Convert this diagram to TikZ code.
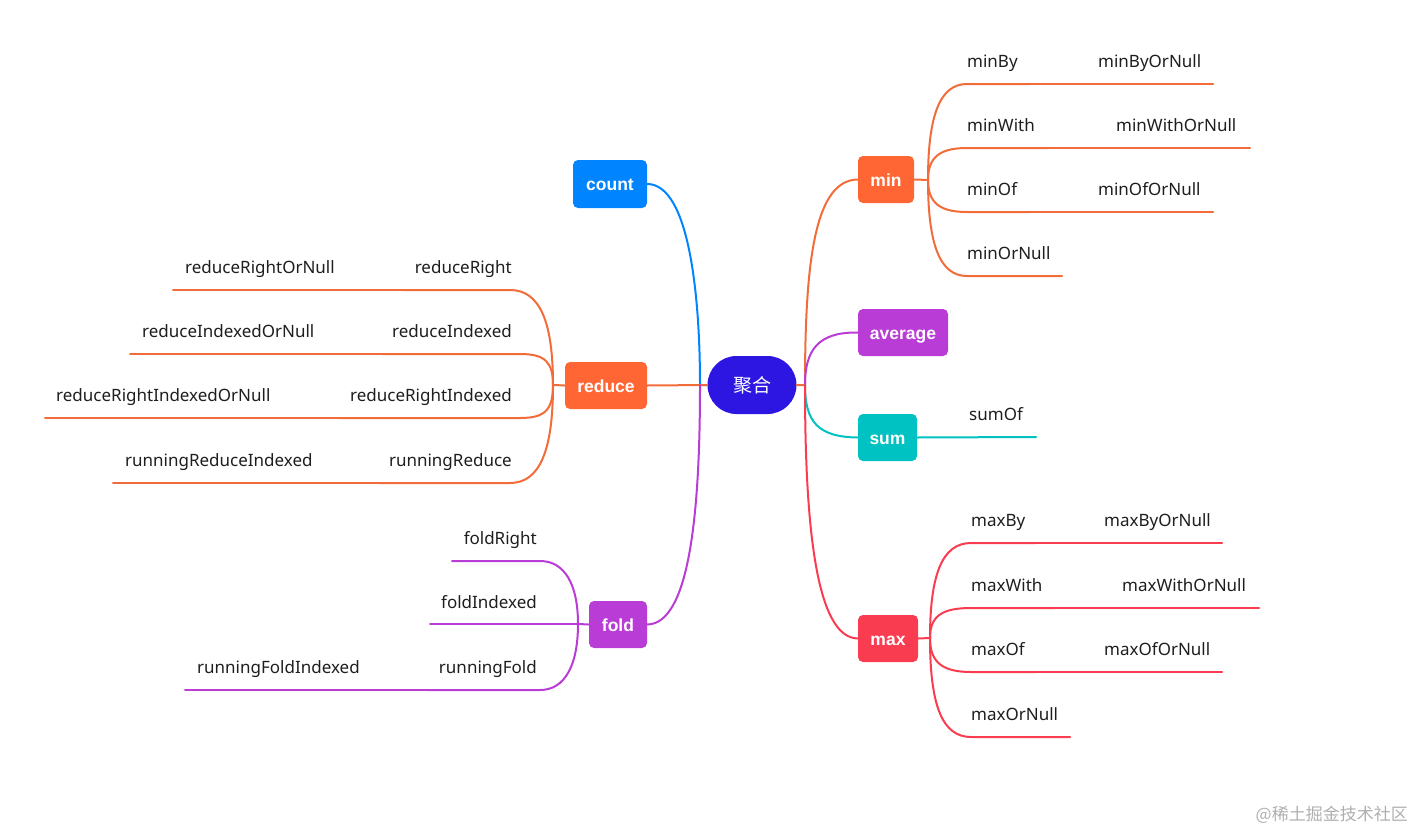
\documentclass[tikz,border=0pt]{standalone}
\usepackage{fontspec}
\setmainfont{Noto Sans}
\newfontfamily\boxf{Liberation Sans}
\newfontfamily\cjk{Noto Sans CJK SC}
\definecolor{rootC}{RGB}{45,22,226}
\definecolor{blueC}{RGB}{0,132,255}
\definecolor{orangeC}{RGB}{255,102,51}
\definecolor{orangeL}{RGB}{242,108,58}
\definecolor{purpleC}{RGB}{186,60,214}
\definecolor{tealC}{RGB}{0,194,194}
\definecolor{redC}{RGB}{250,60,80}
\definecolor{txtC}{RGB}{30,30,30}
\definecolor{wmC}{RGB}{175,175,175}
\begin{document}
\begin{tikzpicture}[x=1pt,y=-1pt,
  every node/.style={font=\fontsize{17}{20}\selectfont, text=txtC},
  box/.style={rounded corners=5pt, inner sep=0pt, text=white, minimum height=47pt, text height=13pt, text depth=0pt, font=\fontsize{17.5}{20}\selectfont\boxf\bfseries},
  lbl/.style={inner sep=0pt},
  ln/.style={line width=2pt, line cap=round}]
\useasboundingbox (0,0) rectangle (1414,830);

% ---------- main nodes ----------
\node[box, fill=rootC, rounded corners=29pt, minimum width=89pt, minimum height=58pt, text height=14pt, text depth=0pt, font=\fontsize{19}{22}\selectfont\cjk] (root) at (752,385) {聚合};
\node[box, fill=blueC, minimum width=74pt, minimum height=48pt] (count) at (610,184) {count};
\node[box, fill=orangeC, minimum width=82pt] (reduce) at (606,385.5) {reduce};
\node[box, fill=purpleC, minimum width=58pt] (fold) at (618,624.5) {fold};
\node[box, fill=orangeC, minimum width=56pt] (min) at (886,179.5) {min};
\node[box, fill=purpleC, minimum width=90pt] (average) at (903,332.5) {average};
\node[box, fill=tealC, minimum width=59pt] (sum) at (887.5,437.5) {sum};
\node[box, fill=redC, minimum width=60pt] (max) at (888,638.5) {max};

% ---------- root connectors ----------
\coordinate (LJ) at (700,385);
\coordinate (RJ) at (805,385);
\draw[ln, blueC] (root.west) -- (LJ) .. controls (700,300) and (690,184) .. (count.east);
\draw[ln, orangeL] (root.west) -- (reduce.east);
\draw[ln, purpleC] (LJ) .. controls (700,510) and (690,624) .. (fold.east);
\draw[ln, orangeL] (root.east) -- (RJ) .. controls (805,260) and (815,180) .. (min.west);
\draw[ln, purpleC] (RJ) .. controls (805,350) and (818,332) .. (average.west);
\draw[ln, tealC] (RJ) .. controls (805,422) and (818,437) .. (sum.west);
\draw[ln, redC] (RJ) .. controls (805,520) and (815,638) .. (max.west);

% ---------- min subtree ----------
\node[lbl, anchor=base west] (minBy) at (967,67) {minBy};
\node[lbl, anchor=base west] (minByOrNull) at (1098,67) {minByOrNull};
\node[lbl, anchor=base west] (minWith) at (967,131) {minWith};
\node[lbl, anchor=base west] (minWithOrNull) at (1116,131) {minWithOrNull};
\node[lbl, anchor=base west] (minOf) at (967,195) {minOf};
\node[lbl, anchor=base west] (minOfOrNull) at (1098,195) {minOfOrNull};
\node[lbl, anchor=base west] (minOrNull) at (967,259) {minOrNull};
\coordinate (minS) at (928,180);
\draw[ln, orangeL] (min.east) -- (minS) .. controls (928,115) and (940,84) .. (967,84) -- (1030,84) coordinate (minByE);
\draw[ln, orangeL] (minByE) -- (1213,84);
\draw[ln, orangeL] (minS) .. controls (928,157) and (940,148) .. (967,148) -- (1048,148) coordinate (minWithE);
\draw[ln, orangeL] (minWithE) -- (1250,148);
\draw[ln, orangeL] (minS) .. controls (928,203) and (940,212) .. (967,212) -- (1030,212) coordinate (minOfE);
\draw[ln, orangeL] (minOfE) -- (1213,212);
\draw[ln, orangeL] (minS) .. controls (928,245) and (940,276) .. (967,276) -- (1062,276);

% ---------- sum subtree ----------
\node[lbl, anchor=base west] (sumOf) at (969,420) {sumOf};
\draw[ln, tealC] (sum.east) -- (1036,437);

% ---------- max subtree ----------
\node[lbl, anchor=base west] (maxBy) at (971,526) {maxBy};
\node[lbl, anchor=base west] (maxByOrNull) at (1104,526) {maxByOrNull};
\node[lbl, anchor=base west] (maxWith) at (971,591) {maxWith};
\node[lbl, anchor=base west] (maxWithOrNull) at (1122,591) {maxWithOrNull};
\node[lbl, anchor=base west] (maxOf) at (971,655) {maxOf};
\node[lbl, anchor=base west] (maxOfOrNull) at (1104,655) {maxOfOrNull};
\node[lbl, anchor=base west] (maxOrNull) at (971,720) {maxOrNull};
\coordinate (maxS) at (930,638);
\draw[ln, redC] (max.east) -- (maxS) .. controls (930,575) and (942,543) .. (971,543) -- (1035,543) coordinate (maxByE);
\draw[ln, redC] (maxByE) -- (1222,543);
\draw[ln, redC] (maxS) .. controls (930,616) and (942,608) .. (971,608) -- (1055,608) coordinate (maxWithE);
\draw[ln, redC] (maxWithE) -- (1259,608);
\draw[ln, redC] (maxS) .. controls (930,662) and (942,672) .. (971,672) -- (1035,672) coordinate (maxOfE);
\draw[ln, redC] (maxOfE) -- (1222,672);
\draw[ln, redC] (maxS) .. controls (930,705) and (942,737) .. (971,737) -- (1070,737);

% ---------- reduce subtree ----------
\node[lbl, anchor=base east] (reduceRight) at (512,273) {reduceRight};
\node[lbl, anchor=base west] (reduceRightOrNull) at (185,273) {reduceRightOrNull};
\node[lbl, anchor=base east] (reduceIndexed) at (512,337) {reduceIndexed};
\node[lbl, anchor=base west] (reduceIndexedOrNull) at (142,337) {reduceIndexedOrNull};
\node[lbl, anchor=base east] (reduceRightIndexed) at (512,401) {reduceRightIndexed};
\node[lbl, anchor=base west] (reduceRightIndexedOrNull) at (56,401) {reduceRightIndexedOrNull};
\node[lbl, anchor=base east] (runningReduce) at (512,466) {runningReduce};
\node[lbl, anchor=base west] (runningReduceIndexed) at (125,466) {runningReduceIndexed};
\coordinate (redS) at (553,385);
\draw[ln, orangeL] (reduce.west) -- (redS) .. controls (553,322) and (540,290) .. (510,290) -- (403,290) coordinate (rRE);
\draw[ln, orangeL] (rRE) -- (173,290);
\draw[ln, orangeL] (redS) .. controls (553,362) and (545,354) .. (520,354) -- (382,354) coordinate (rIE);
\draw[ln, orangeL] (rIE) -- (130,354);
\draw[ln, orangeL] (redS) .. controls (553,410) and (545,418) .. (520,418) -- (340,418) coordinate (rRIE);
\draw[ln, orangeL] (rRIE) -- (45,418);
\draw[ln, orangeL] (redS) .. controls (553,450) and (540,483) .. (510,483) -- (379,483) coordinate (rRdE);
\draw[ln, orangeL] (rRdE) -- (113,483);

% ---------- fold subtree ----------
\node[lbl, anchor=base east] (foldRight) at (537,544) {foldRight};
\node[lbl, anchor=base east] (foldIndexed) at (537,608) {foldIndexed};
\node[lbl, anchor=base east] (runningFold) at (537,673) {runningFold};
\node[lbl, anchor=base west] (runningFoldIndexed) at (197,673) {runningFoldIndexed};
\coordinate (foldS) at (578,624);
\draw[ln, purpleC] (fold.west) -- (foldS) .. controls (578,585) and (565,561) .. (540,561) -- (452,561);
\draw[ln, purpleC] (foldS) -- (430,624);
\draw[ln, purpleC] (foldS) .. controls (578,665) and (565,690) .. (540,690) -- (427,690) coordinate (rFE);
\draw[ln, purpleC] (rFE) -- (185,690);

% ---------- watermark ----------
\node[lbl, anchor=base east, text=wmC, font=\fontsize{17}{20}\selectfont\cjk] (wm) at (1408,820) {@稀土掘金技术社区};
\end{tikzpicture}
\end{document}
